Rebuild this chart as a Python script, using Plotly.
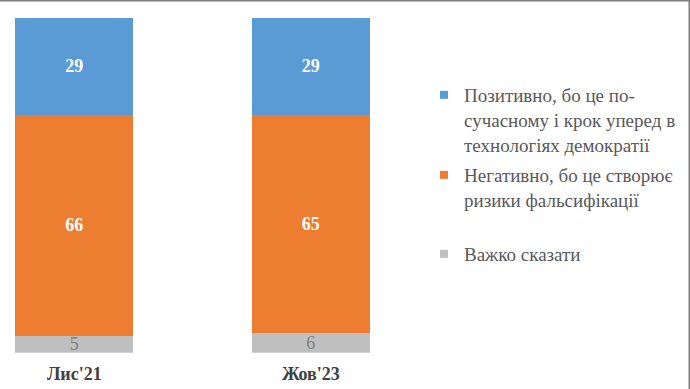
import plotly.graph_objects as go

categories = ["Лис'21", "Жов'23"]
series_names = [
    "Позитивно, бо це по-<br>сучасному і крок уперед в<br>технологіях демократії",
    "Негативно, бо це створює<br>ризики фальсифікації",
    "Важко сказати",
]
positive = [29, 29]
negative = [66, 65]
hard_to_say = [5, 6]

colors = ["#5B9BD5", "#ED7D31", "#BFBFBF"]
FONT = "'Liberation Serif', 'DejaVu Serif', serif"
W, H = 690, 389

fig = go.Figure()
values = [positive, negative, hard_to_say]
label_fonts = [
    dict(family=FONT, size=18, color="white", weight="bold"),
    dict(family=FONT, size=18, color="white", weight="bold"),
    dict(family=FONT, size=18, color="#7F7F7F"),
]
# stack bottom-up: gray, orange, blue
for vals, col, lf in list(zip(values, colors, label_fonts))[::-1]:
    fig.add_trace(go.Bar(
        x=categories, y=vals, width=0.5,
        marker=dict(color=col, line=dict(width=0)),
        text=[str(v) for v in vals], textposition="inside",
        insidetextanchor="middle", textangle=0,
        constraintext="none", textfont=lf,
        showlegend=False, hoverinfo="skip",
    ))

legend_ids = ["legend", "legend2", "legend3"]
for name, col, lid in zip(series_names, colors, legend_ids):
    fig.add_trace(go.Scatter(
        x=[None], y=[None], mode="markers", name=name,
        marker=dict(symbol="square", size=8, color=col),
        legend=lid, showlegend=True,
    ))

def pyfrac(px):
    return 1 - px / H

leg_common = dict(
    font=dict(family=FONT, size=19, color="#595959"),
    bgcolor="rgba(0,0,0,0)", borderwidth=0,
    xanchor="left", yanchor="middle", valign="top",
    itemclick=False, itemdoubleclick=False,
)
leg_x = (463 - 39) / W
fig.update_layout(
    legend=dict(x=leg_x, y=pyfrac(120), **leg_common),
    legend2=dict(x=leg_x, y=pyfrac(187.5), **leg_common),
    legend3=dict(x=leg_x, y=pyfrac(254), **leg_common),
)

x_px_per_unit = 236.5
plot_w = 430
r0 = -74.3 / x_px_per_unit
r1 = r0 + plot_w / x_px_per_unit

fig.update_layout(
    width=W, height=H,
    font=dict(family=FONT, color="#595959"),
    margin=dict(l=0, r=0, t=0, b=0),
    barmode="stack",
    paper_bgcolor="white", plot_bgcolor="white",
    xaxis=dict(
        domain=[0, plot_w / W], range=[r0, r1],
        showgrid=False, zeroline=False, showline=False,
        ticks="", tickfont=dict(family=FONT, size=18, color="#404040", weight="bold"),
        ticklabelstandoff=8,
    ),
    yaxis=dict(
        domain=[(H - 352.7) / H, (H - 17.7) / H], range=[0, 100],
        visible=False,
    ),
    shapes=[
        dict(type="line", xref="paper", yref="paper", x0=0, x1=1, y0=1, y1=1,
             line=dict(color="#7F7F7F", width=3)),
        dict(type="line", xref="paper", yref="paper", x0=1, x1=1, y0=0, y1=1,
             line=dict(color="#7F7F7F", width=3)),
    ],
)

fig.write_html("out.html")
